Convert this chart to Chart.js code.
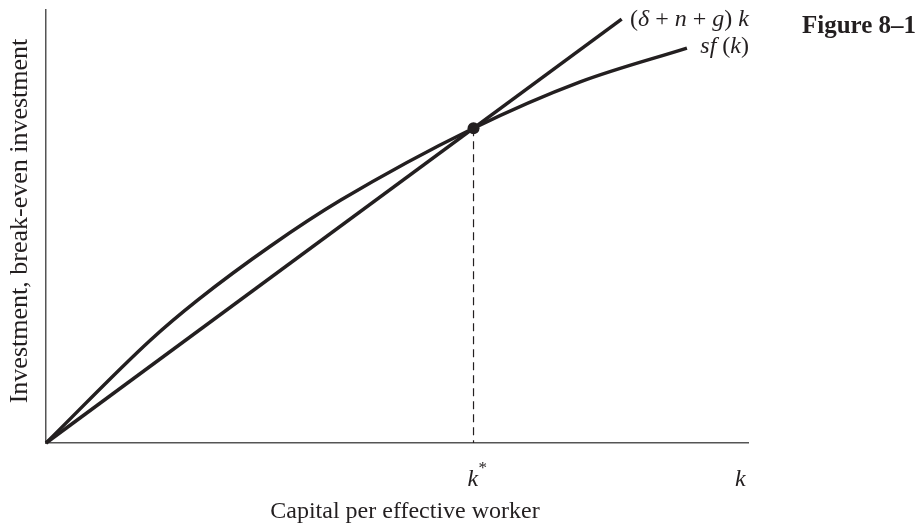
<!DOCTYPE html>
<html>
<head>
<meta charset="utf-8">
<script src="https://cdn.jsdelivr.net/npm/chart.js@4"></script>
<style>
  body { margin: 0; background: #fff; }
  #wrap { width: 924px; height: 525px; }
</style>
</head>
<body>
<div id="wrap"><canvas id="solow" width="924" height="525"></canvas></div>
<script>
// Data (arbitrary units 0-10)
const capital = [0, 1.49, 2.16, 3.2, 4.2, 6.09, 7.61, 9.13];
const investment = [0, 2.38, 3.3, 4.55, 5.61, 7.27, 8.34, 9.12];
const breakEvenK = [0, 8.2];
const breakEvenY = [0, 9.79];
const kStar = 6.09;
const yStar = 7.27;

const ink = "#231f20";

// build points for the library
const sfData = capital.map((k, i) => ({ x: k, y: investment[i] }));
const lineData = breakEvenK.map((k, i) => ({ x: k, y: breakEvenY[i] }));

// draw mixed italic / upright pieces of text
function drawPieces(ctx, pieces, x, y, size) {
  let cx = x;
  pieces.forEach((p) => {
    ctx.font = (p.it ? "italic " : "") + size + "px 'Liberation Serif', serif";
    ctx.fillText(p.t, cx, y);
    cx += ctx.measureText(p.t).width;
  });
  return cx;
}
function piecesWidth(ctx, pieces, size) {
  let w = 0;
  pieces.forEach((p) => {
    ctx.font = (p.it ? "italic " : "") + size + "px 'Liberation Serif', serif";
    w += ctx.measureText(p.t).width;
  });
  return w;
}

const labelsPlugin = {
  id: "labels",
  afterDraw(chart) {
    const ctx = chart.ctx;
    ctx.save();
    ctx.fillStyle = ink;
    ctx.textBaseline = "alphabetic";
    ctx.textAlign = "left";

    // line labels
    drawPieces(ctx, [
      { t: "(", it: false }, { t: "δ", it: true }, { t: " + ", it: false },
      { t: "n", it: true }, { t: " + ", it: false }, { t: "g", it: true },
      { t: ") ", it: false }, { t: "k", it: true }
    ], 630, 26, 24);
    const sf = [
      { t: "sf", it: true }, { t: " (", it: false }, { t: "k", it: true }, { t: ")", it: false }
    ];
    drawPieces(ctx, sf, 749 - piecesWidth(ctx, sf, 24), 53, 24);

    // figure tag
    ctx.font = "bold 25px 'Liberation Serif', serif";
    ctx.fillText("Figure 8–1", 802, 33, 118);

    // k* and k
    const kx = chart.scales.x.getPixelForValue(kStar);
    ctx.font = "italic 24px 'Liberation Serif', serif";
    ctx.fillText("k", kx - 6, 486);
    ctx.font = "17px 'Liberation Serif', serif";
    ctx.fillText("*", kx + 5, 473);
    ctx.font = "italic 24px 'Liberation Serif', serif";
    ctx.fillText("k", 735, 486);

    // axis titles
    ctx.font = "24px 'Liberation Serif', serif";
    ctx.textAlign = "center";
    ctx.fillText("Capital per effective worker", 405, 518);
    ctx.font = "26px 'Liberation Serif', serif";
    ctx.translate(27, 221);
    ctx.rotate(-Math.PI / 2);
    ctx.fillText("Investment, break-even investment", 0, 0);
    ctx.restore();
  }
};

new Chart(document.getElementById("solow"), {
  type: "scatter",
  data: {
    datasets: [
      {
        label: "sf(k)",
        data: sfData,
        showLine: true,
        borderColor: ink,
        borderWidth: 3.5,
        pointRadius: 0,
        cubicInterpolationMode: "monotone",
        fill: false
      },
      {
        label: "(δ+n+g)k",
        data: lineData,
        showLine: true,
        borderColor: ink,
        borderWidth: 3.5,
        pointRadius: 0,
        fill: false
      },
      {
        label: "k*",
        data: [{ x: kStar, y: yStar }, { x: kStar, y: 0 }],
        showLine: true,
        borderColor: ink,
        borderWidth: 1.2,
        borderDash: [8, 5],
        pointRadius: 0
      },
      {
        label: "steady state",
        data: [{ x: kStar, y: yStar }],
        pointRadius: 6,
        pointBackgroundColor: ink,
        pointBorderWidth: 0
      }
    ]
  },
  options: {
    responsive: false,
    animation: false,
    clip: false,
    layout: { padding: { left: 38, top: 10, right: 176, bottom: 74 } },
    plugins: { legend: { display: false }, tooltip: { enabled: false } },
    scales: {
      x: {
        type: "linear", min: 0, max: 10,
        ticks: { display: false },
        grid: { display: false },
        border: { display: true, color: "#555", width: 1.5 }
      },
      y: {
        type: "linear", min: 0, max: 10,
        ticks: { display: false },
        grid: { display: false },
        border: { display: true, color: "#555", width: 1.5 }
      }
    }
  },
  plugins: [labelsPlugin]
});
</script>
</body>
</html>
